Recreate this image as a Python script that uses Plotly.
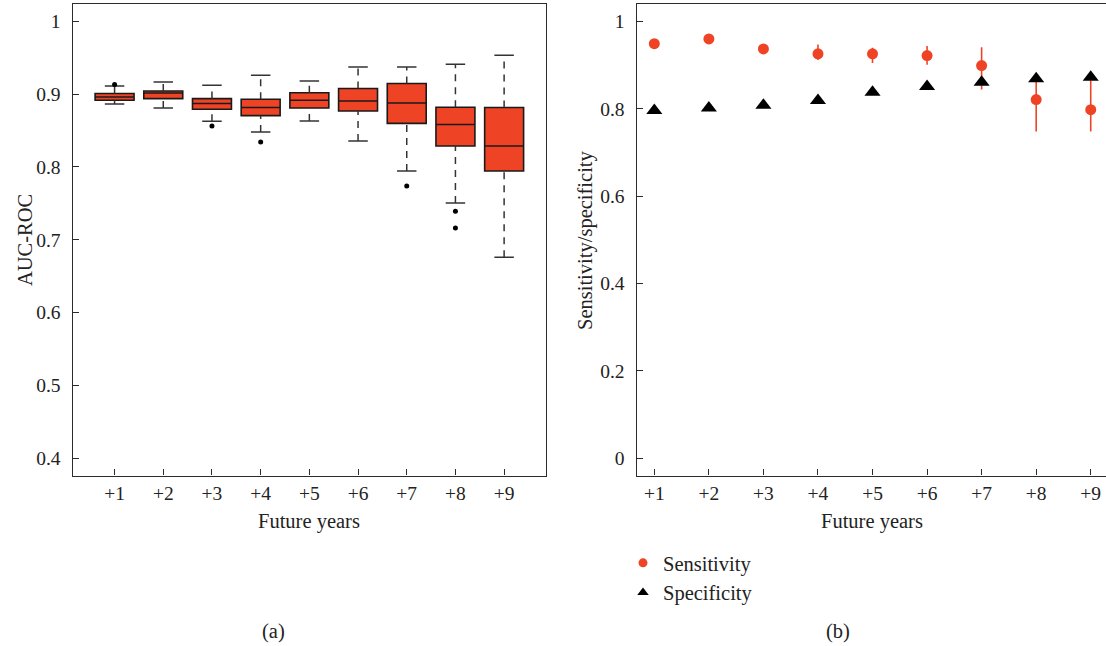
import plotly.graph_objects as go

# ---------------- data ----------------
years = ["+1", "+2", "+3", "+4", "+5", "+6", "+7", "+8", "+9"]

# Panel (a): AUC-ROC box plots
auc_lower = [0.8866, 0.8811, 0.8628, 0.8481, 0.8632, 0.8357, 0.7944, 0.7504, 0.6761]
auc_q1 = [0.8917, 0.8940, 0.8793, 0.8706, 0.8811, 0.8770, 0.8600, 0.8288, 0.7944]
auc_median = [0.8962, 0.9017, 0.8872, 0.8817, 0.8917, 0.8907, 0.8880, 0.8583, 0.8288]
auc_q3 = [0.9009, 0.9045, 0.8940, 0.8931, 0.9020, 0.9078, 0.9147, 0.8821, 0.8817]
auc_upper = [0.9114, 0.9169, 0.9123, 0.9261, 0.9183, 0.9375, 0.9375, 0.9412, 0.9536]
outlier_year = [0, 2, 3, 6, 7, 7]
outlier_auc = [0.9133, 0.8563, 0.8343, 0.7738, 0.7390, 0.7160]

# Panel (b): sensitivity / specificity
sensitivity = [0.949, 0.960, 0.937, 0.926, 0.926, 0.922, 0.899, 0.821, 0.798]
sens_upper = [0.949, 0.960, 0.937, 0.947, 0.940, 0.944, 0.941, 0.880, 0.865]
sens_lower = [0.949, 0.960, 0.937, 0.912, 0.905, 0.901, 0.844, 0.748, 0.748]
specificity = [0.796, 0.802, 0.808, 0.819, 0.838, 0.851, 0.861, 0.869, 0.872]

left_ticks = [0.4, 0.5, 0.6, 0.7, 0.8, 0.9, 1.0]
left_ticktext = ["0.4", "0.5", "0.6", "0.7", "0.8", "0.9", "1"]
right_ticks = [0, 0.2, 0.4, 0.6, 0.8, 1.0]
right_ticktext = ["0", "0.2", "0.4", "0.6", "0.8", "1"]

# ---------------- style ----------------
W, H = 1106, 646
RED = "#EE4425"
FONT = "Liberation Serif"
FS = 20.5
TFS = 19.5
AX = "#2b2b2b"

pos = list(range(len(years)))

fig = go.Figure()

# whiskers (dashed) and staples for panel (a)
wx, wy, cx, cy = [], [], [], []
for i in pos:
    wx += [i, i, None, i, i, None]
    wy += [auc_q3[i], auc_upper[i], None, auc_lower[i], auc_q1[i], None]
    cx += [i - 0.2, i + 0.2, None, i - 0.2, i + 0.2, None]
    cy += [auc_upper[i], auc_upper[i], None, auc_lower[i], auc_lower[i], None]

fig.add_trace(go.Scatter(x=wx, y=wy, mode="lines", xaxis="x", yaxis="y",
                         line=dict(color="#333333", width=1.5, dash="7px,6px"),
                         showlegend=False, hoverinfo="skip"))
fig.add_trace(go.Scatter(x=cx, y=cy, mode="lines", xaxis="x", yaxis="y",
                         line=dict(color="#333333", width=1.5),
                         showlegend=False, hoverinfo="skip"))
fig.add_trace(go.Box(x=pos, q1=auc_q1, median=auc_median, q3=auc_q3,
                     lowerfence=auc_q1, upperfence=auc_q3,
                     width=0.8, whiskerwidth=0, fillcolor=RED,
                     line=dict(color="#1a1a1a", width=1.6),
                     xaxis="x", yaxis="y", showlegend=False, boxpoints=False))
fig.add_trace(go.Scatter(x=outlier_year, y=outlier_auc, mode="markers",
                         xaxis="x", yaxis="y",
                         marker=dict(color="black", size=5),
                         showlegend=False))

# panel (b)
err_plus = [u - v for u, v in zip(sens_upper, sensitivity)]
err_minus = [v - l for v, l in zip(sensitivity, sens_lower)]
fig.add_trace(go.Scatter(x=pos, y=sensitivity, mode="markers", xaxis="x2", yaxis="y2",
                         marker=dict(color=RED, size=11, symbol="circle"),
                         error_y=dict(type="data", array=err_plus, arrayminus=err_minus,
                                      color=RED, thickness=1.6, width=0),
                         showlegend=False, name="Sensitivity"))
fig.add_trace(go.Scatter(x=pos, y=specificity, mode="markers", xaxis="x2", yaxis="y2",
                         marker=dict(color="black", size=14, symbol="triangle-up"),
                         showlegend=False, name="Specificity"))

# legend entries
fig.add_trace(go.Scatter(x=[None], y=[None], mode="markers", xaxis="x2", yaxis="y2",
                         marker=dict(color=RED, size=9, symbol="circle"),
                         name="Sensitivity", showlegend=True))
fig.add_trace(go.Scatter(x=[None], y=[None], mode="markers", xaxis="x2", yaxis="y2",
                         marker=dict(color="black", size=10, symbol="triangle-up"),
                         name="Specificity", showlegend=True))


def px_x(p):
    return p / W


def px_y(p):
    return 1 - p / H


ydom = [px_y(475.5), px_y(4)]

axis_common = dict(showgrid=False, zeroline=False, showline=True, linecolor=AX, linewidth=1.4,
                   ticks="inside", ticklen=6, tickwidth=1.4, tickcolor=AX,
                   tickfont=dict(family=FONT, size=TFS, color="#222"))

fig.update_layout(
    width=W, height=H,
    margin=dict(l=0, r=0, t=0, b=0),
    paper_bgcolor="white", plot_bgcolor="white",
    font=dict(family=FONT, size=FS, color="#222"),
    xaxis=dict(domain=[px_x(72.7), px_x(546)], range=[-0.86, 8.86],
               tickvals=pos, ticktext=years, mirror=True, anchor="y",
               ticklabelstandoff=0, **axis_common),
    yaxis=dict(domain=ydom, range=[0.376, 1.024], tickvals=left_ticks,
               ticktext=left_ticktext, mirror=True, anchor="x",
               ticklabelstandoff=7, **axis_common),
    xaxis2=dict(domain=[px_x(636.7), 1.0], range=[-0.323, 8.28],
                tickvals=pos, ticktext=years, mirror=True, anchor="y2",
                ticklabelstandoff=0, **axis_common),
    yaxis2=dict(domain=ydom, range=[-0.04, 1.04], tickvals=right_ticks,
                ticktext=right_ticktext, mirror=False, anchor="x2",
                ticklabelstandoff=7, **axis_common),
    legend=dict(x=px_x(623), y=px_y(543), xanchor="left", yanchor="top",
                bgcolor="rgba(0,0,0,0)", borderwidth=0,
                font=dict(family=FONT, size=FS, color="#222")),
    annotations=[
        dict(text="AUC-ROC", x=px_x(25), y=px_y(240), xref="paper", yref="paper",
             textangle=-90, showarrow=False, xanchor="center", yanchor="middle"),
        dict(text="Sensitivity/specificity", x=px_x(585), y=px_y(240), xref="paper", yref="paper",
             textangle=-90, showarrow=False, xanchor="center", yanchor="middle"),
        dict(text="Future years", x=px_x(309), y=px_y(521), xref="paper", yref="paper",
             showarrow=False, xanchor="center", yanchor="middle"),
        dict(text="Future years", x=px_x(872), y=px_y(521), xref="paper", yref="paper",
             showarrow=False, xanchor="center", yanchor="middle"),
        dict(text="(a)", x=px_x(273), y=px_y(631), xref="paper", yref="paper",
             showarrow=False, xanchor="center", yanchor="middle"),
        dict(text="(b)", x=px_x(838), y=px_y(631), xref="paper", yref="paper",
             showarrow=False, xanchor="center", yanchor="middle"),
    ],
)

fig.write_html("out.html")
